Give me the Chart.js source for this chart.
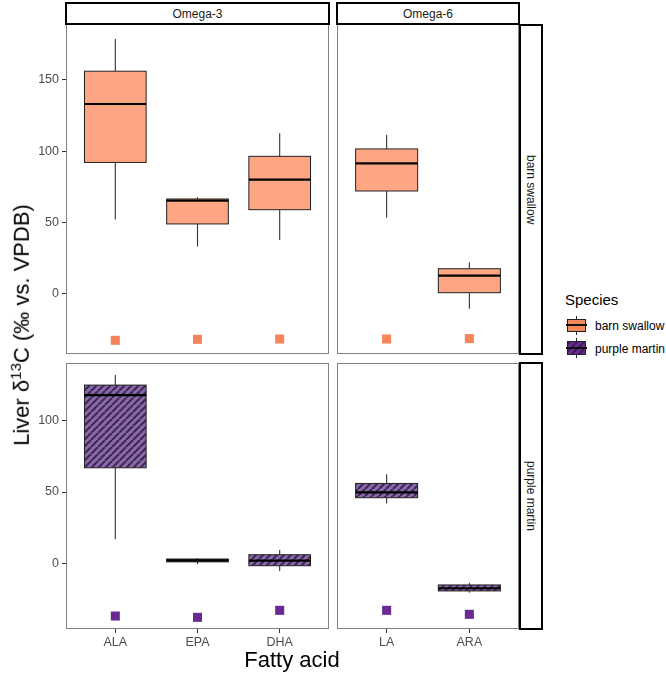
<!DOCTYPE html>
<html>
<head>
<meta charset="utf-8">
<script src="https://cdn.jsdelivr.net/npm/chart.js@4"></script>
<style>
  body { margin: 0; background: #fff; }
  #wrap { position: relative; width: 666px; height: 675px; font-family: 'Liberation Sans', Arial, sans-serif; color: #000; }
  canvas { position: absolute; }
  .strip { position: absolute; box-sizing: border-box; border: 2px solid #000; background: #fff; font-size: 12px; color: #1a1a1a; display: flex; align-items: center; justify-content: center; }
  .vstrip { writing-mode: vertical-rl; }
  .txt { position: absolute; white-space: nowrap; }
  .key { position: absolute; box-sizing: border-box; border: 1px solid #222; }
  .whisk { position: absolute; width: 1px; background: #222; }
  .med { position: absolute; height: 2px; background: #111; }
</style>
</head>
<body>
<div id="wrap">
  <canvas id="swallow3" width="329" height="330" style="left:0px;top:24px"></canvas>
  <canvas id="swallow6" width="182" height="330" style="left:337px;top:24px"></canvas>
  <canvas id="martin3" width="329" height="290" style="left:0px;top:363px"></canvas>
  <canvas id="martin6" width="182" height="290" style="left:337px;top:363px"></canvas>

  <!-- facet strips -->
  <div class="strip" style="left:65px;top:2px;width:265px;height:23px">Omega-3</div>
  <div class="strip" style="left:336px;top:2px;width:184px;height:23px">Omega-6</div>
  <div class="strip vstrip" style="left:519px;top:24px;width:24px;height:331px">barn swallow</div>
  <div class="strip vstrip" style="left:519px;top:362px;width:24px;height:268px">purple martin</div>

  <!-- axis titles -->
  <div class="txt" style="left:21px;top:325px;font-size:22px;transform:translate(-50%,-50%) rotate(-90deg)">Liver &delta;<sup style="font-size:15px">13</sup>C (&permil; vs. VPDB)</div>
  <div class="txt" style="left:292px;top:660px;font-size:22px;transform:translate(-50%,-50%)">Fatty acid</div>

  <!-- legend -->
  <div class="txt" style="left:565px;top:291px;font-size:15px">Species</div>
  <div class="whisk" style="left:576px;top:316px;height:19px"></div>
  <div class="key" style="left:567px;top:319px;width:19px;height:13px;background:#f7875c"></div>
  <div class="med" style="left:566px;top:324px;width:21px"></div>
  <div class="txt" style="left:595px;top:319px;font-size:12px">barn swallow</div>
  <div class="whisk" style="left:576px;top:338px;height:20px"></div>
  <div class="key" style="left:567px;top:341px;width:19px;height:14px;background:repeating-linear-gradient(-45deg,#6a2c91 0px,#6a2c91 3px,#3d1f57 3px,#3d1f57 5px)"></div>
  <div class="med" style="left:566px;top:347px;width:21px"></div>
  <div class="txt" style="left:595px;top:342px;font-size:12px">purple martin</div>
</div>

<script>
//fatty acids on x axis for each facet column
const omega3Acids = ['ALA', 'EPA', 'DHA'];
const omega6Acids = ['LA', 'ARA'];

//box stats per fatty acid: [lower whisker, q1, median, q3, upper whisker]
const swallowOmega3 = [[52, 92, 133, 156, 178.5], [33, 48.9, 65.2, 66.4, 67.6], [37.7, 58.9, 80, 96.3, 112.5]];
const swallowOmega6 = [[53.3, 72, 91.4, 101.5, 111.5], [-10.5, 0.7, 12.6, 17.5, 22]];
const martinOmega3 = [[16.8, 67, 118, 125, 132], [-0.7, 1, 2, 3, 3.6], [-5.4, -1.7, 1.8, 6, 9.3]];
const martinOmega6 = [[42, 46, 49.8, 56, 62.4], [-20.6, -19.4, -17.5, -15.2, -13.6]];

//single square points under each box
const swallowOmega3Pts = [-32.7, -32, -31.8];
const swallowOmega6Pts = [-31.8, -31.5];
const martinOmega3Pts = [-37, -37.9, -33];
const martinOmega6Pts = [-33, -35.8];

//y tick labels for each row
const swallowTicks = [0, 50, 100, 150];
const martinTicks = [0, 50, 100];

const fontFamily = "'Liberation Sans', Arial, sans-serif";

//diagonal hatch for purple martin boxes
function hatch(ctx) {
    const c = document.createElement('canvas');
    c.width = 7; c.height = 7;
    const g = c.getContext('2d');
    g.fillStyle = '#8c69ae';
    g.fillRect(0, 0, 7, 7);
    g.strokeStyle = '#3c2a50';
    g.lineWidth = 2.1;
    for (const o of [-7, 0, 7]) {
        g.beginPath();
        g.moveTo(o, 7);
        g.lineTo(o + 7, 0);
        g.stroke();
    }
    return ctx.createPattern(c, 'repeat');
}

function makePanel(id, acids, boxes, pts, fill, ptColor, yMin, yMax, yTicks, showY, showX) {
    const canvas = document.getElementById(id);
    const boxFill = fill === 'hatch' ? hatch(canvas.getContext('2d')) : fill;

    //draws whiskers, boxes and medians from the stats arrays using the chart scales
    const boxPlugin = {
        id: 'boxes',
        beforeDatasetsDraw(chart) {
            const c = chart.ctx, xs = chart.scales.x, ys = chart.scales.y;
            boxes.forEach((b, i) => {
                const xc = xs.getPixelForValue(i + 1);
                const x0 = xs.getPixelForValue(i + 1 - 0.375);
                const x1 = xs.getPixelForValue(i + 1 + 0.375);
                const [lo, q1, med, q3, hi] = b.map(v => ys.getPixelForValue(v));
                c.save();
                c.strokeStyle = '#333';
                c.lineWidth = 1.1;
                c.beginPath();
                c.moveTo(xc, hi); c.lineTo(xc, q3);
                c.moveTo(xc, q1); c.lineTo(xc, lo);
                c.stroke();
                c.fillStyle = boxFill;
                c.fillRect(x0, q3, x1 - x0, q1 - q3);
                c.strokeStyle = '#222';
                c.lineWidth = 1;
                c.strokeRect(x0, q3, x1 - x0, q1 - q3);
                c.strokeStyle = '#000';
                c.lineWidth = 2.2;
                c.beginPath();
                c.moveTo(x0, med); c.lineTo(x1, med);
                c.stroke();
                c.restore();
            });
        },
        afterDraw(chart) { //panel border
            const a = chart.chartArea, c = chart.ctx;
            c.save();
            c.strokeStyle = '#7f7f7f';
            c.lineWidth = 1;
            c.strokeRect(a.left + 0.5, a.top + 0.5, a.right - a.left - 1, a.bottom - a.top - 1);
            c.restore();
        }
    };

    return new Chart(canvas, {
        type: 'scatter',
        data: {
            datasets: [{
                data: pts.map((v, i) => ({x: i + 1, y: v})),
                pointStyle: 'rect',
                pointRadius: 6.4,
                backgroundColor: ptColor,
                borderWidth: 0
            }]
        },
        options: {
            responsive: false,
            animation: false,
            layout: {padding: 0, autoPadding: false}, //keep plot area flush to canvas edges
            plugins: {legend: {display: false}, tooltip: {enabled: false}},
            scales: {
                x: {
                    type: 'linear',
                    display: showX,
                    min: 0.4,
                    max: acids.length + 0.6,
                    afterBuildTicks: s => { s.ticks = acids.map((a, i) => ({value: i + 1})); },
                    afterFit: s => { if (showX) { s.height = 24; s.paddingLeft = 0; s.paddingRight = 0; } },
                    grid: {drawOnChartArea: false, tickLength: 4, tickColor: '#333'},
                    border: {display: false},
                    ticks: {
                        callback: (v, i) => acids[i],
                        color: '#4d4d4d',
                        font: {size: 12.5, family: fontFamily},
                        padding: 2,
                        maxRotation: 0,
                        autoSkip: false
                    }
                },
                y: {
                    type: 'linear',
                    display: showY,
                    min: yMin,
                    max: yMax,
                    afterBuildTicks: s => { s.ticks = yTicks.map(v => ({value: v})); },
                    afterFit: s => { if (showY) { s.width = 66; s.paddingTop = 0; s.paddingBottom = 0; } },
                    grid: {drawOnChartArea: false, tickLength: 4, tickColor: '#333'},
                    border: {display: false},
                    ticks: {
                        color: '#4d4d4d',
                        font: {size: 12.5, family: fontFamily},
                        padding: 3
                    }
                }
            }
        },
        plugins: [boxPlugin]
    });
}

makePanel('swallow3', omega3Acids, swallowOmega3, swallowOmega3Pts, '#fea683', '#f5845a', -42.3, 189.1, swallowTicks, true, false);
makePanel('swallow6', omega6Acids, swallowOmega6, swallowOmega6Pts, '#fea683', '#f5845a', -42.3, 189.1, swallowTicks, false, false);
makePanel('martin3', omega3Acids, martinOmega3, martinOmega3Pts, 'hatch', '#6a2a96', -46.1, 140.5, martinTicks, true, true);
makePanel('martin6', omega6Acids, martinOmega6, martinOmega6Pts, 'hatch', '#6a2a96', -46.1, 140.5, martinTicks, false, true);
</script>
</body>
</html>
